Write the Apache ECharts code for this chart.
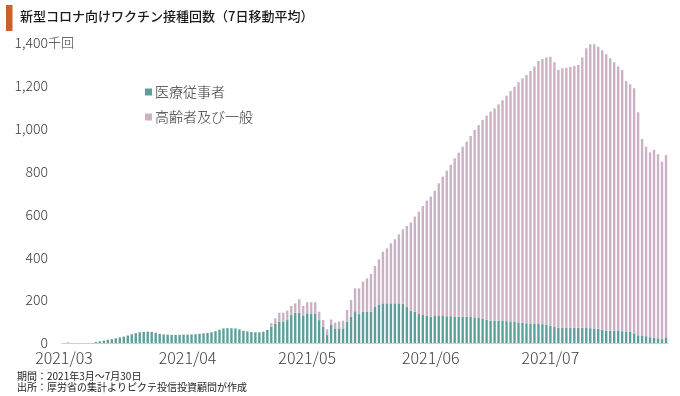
<!DOCTYPE html>
<html>
<head>
<meta charset="utf-8">
<script src="https://cdn.jsdelivr.net/npm/echarts@6/dist/echarts.min.js"></script>
<style>
html,body{margin:0;padding:0;background:#fff;}
#c{width:680px;height:396px;}
</style>
</head>
<body>
<div id="c"></div>
<script>
// ---- data (thousand doses, 7-day moving average) ----
const startDay = [2021, 3, 1];
const dayCount = 152; // 2021/03/01 - 2021/07/30
const monthLabels = ['2021/03', '2021/04', '2021/05', '2021/06', '2021/07'];
const yTicks = [0, 200, 400, 600, 800, 1000, 1200, 1400];
const seriesNames = ['医療従事者', '高齢者及び一般'];

const healthcare = [
  0,2,0,0,0,0,0,0,5,8,
  11,15,18,22,26,30,35,41,46,50,
  52,53,52,48,43,40,39,38,38,38,
  39,39,40,41,43,45,47,50,55,62,
  68,69,69,68,64,57,54,51,50,50,
  53,61,76,89,100,100,107,131,141,141,
  126,138,138,138,107,76,37,84,68,68,
  68,100,123,148,135,145,145,145,168,180,
  185,185,185,185,185,183,170,150,146,135,
  131,128,123,126,126,126,125,125,123,123,
  123,123,122,120,117,112,108,105,104,104,
  103,102,101,99,96,94,92,91,91,90,
  88,85,80,75,72,72,72,72,72,72,
  71,70,69,68,66,62,58,57,56,56,
  55,54,52,45,36,33,32,27,24,22,
  18,25
];
const general = [
  0,0,0,0,0,0,0,0,0,0,
  0,0,0,0,0,0,0,0,0,0,
  0,0,0,0,0,0,0,0,0,0,
  0,0,0,0,0,0,0,0,0,0,
  0,0,0,0,0,0,0,0,0,0,
  0,0,17,26,41,41,44,42,44,63,
  47,52,52,52,39,31,27,26,27,32,
  36,54,78,107,120,141,157,177,191,210,
  241,257,280,299,322,347,376,412,444,478,
  508,536,560,585,619,650,679,706,739,765,
  793,817,844,874,900,929,953,975,991,1010,
  1030,1052,1075,1097,1121,1141,1159,1178,1199,1226,
  1237,1247,1256,1235,1202,1210,1213,1216,1221,1225,
  1261,1305,1325,1326,1317,1304,1289,1272,1254,1234,
  1219,1169,1155,1144,1041,919,884,863,877,859,
  828,852
];

// category dates
const dates = [];
for (let i = 0; i < dayCount; i++) {
  const d = new Date(Date.UTC(startDay[0], startDay[1] - 1, startDay[2] + i));
  const mm = String(d.getUTCMonth() + 1).padStart(2, '0');
  const dd = String(d.getUTCDate()).padStart(2, '0');
  dates.push(d.getUTCFullYear() + '/' + mm + '/' + dd);
}

const FONT = '"Noto Sans CJK JP", "Noto Sans", sans-serif';
const TEAL = '#5e9f9d';
const PINK = '#ccb0c5';

const chart = echarts.init(document.getElementById('c'), null, {renderer: 'canvas'});
chart.setOption({
  animation: false,
  backgroundColor: '#fff',
  textStyle: {fontFamily: FONT},
  grid: {left: 62, right: 12, top: 43, bottom: 53, containLabel: false, outerBoundsMode: 'none'},
  legend: {
    data: seriesNames,
    orient: 'vertical',
    left: 140,
    top: 80,
    icon: 'rect',
    itemWidth: 7,
    itemHeight: 7,
    itemGap: 11,
    textStyle: {fontFamily: FONT, fontSize: 14, fontWeight: 300, color: '#333', padding: [0, 0, 0, -2]}
  },
  xAxis: {
    type: 'category',
    data: dates,
    boundaryGap: true,
    axisLine: {show: true, lineStyle: {color: '#cfcfcf', width: 1}},
    axisTick: {show: false},
    splitLine: {show: false},
    axisLabel: {
      interval: function (index, value) { return value.slice(8) === '01'; },
      formatter: function (value) {
        const m = value.slice(0, 7);
        return monthLabels.indexOf(m) >= 0 ? m : '';
      },
      fontFamily: FONT,
      fontSize: 16,
      fontWeight: 300,
      color: '#3a3a3a',
      margin: 7,
      hideOverlap: false
    }
  },
  yAxis: {
    type: 'value',
    min: yTicks[0],
    max: yTicks[yTicks.length - 1],
    interval: 200,
    axisLine: {show: false},
    axisTick: {show: false},
    splitLine: {show: false},
    axisLabel: {
      fontFamily: FONT,
      fontSize: 14,
      fontWeight: 300,
      color: '#3a3a3a',
      margin: 14,
      formatter: function (v) { return v.toLocaleString('en-US'); }
    }
  },
  series: [
    {
      name: seriesNames[0],
      type: 'bar',
      stack: 'total',
      data: healthcare,
      barWidth: 2.4,
      itemStyle: {color: TEAL},
      emphasis: {disabled: true}
    },
    {
      name: seriesNames[1],
      type: 'bar',
      stack: 'total',
      data: general,
      barWidth: 2.4,
      itemStyle: {color: PINK},
      emphasis: {disabled: true}
    }
  ],
  graphic: [
    {type: 'rect', left: 6, top: 5, shape: {width: 6.5, height: 26}, style: {fill: '#c8612b'}},
    {type: 'text', left: 20, top: 10, style: {text: '新型コロナ向けワクチン接種回数（7日移動平均）', font: '500 13px ' + FONT, fill: '#1a1a1a'}},
    {type: 'text', left: 48, top: 36, style: {text: '千回', font: '300 13px ' + FONT, fill: '#3a3a3a'}},
    {type: 'text', left: 17, top: 371, style: {text: '期間：2021年3月～7月30日', font: '10px ' + FONT, fill: '#222'}},
    {type: 'text', left: 17, top: 382, style: {text: '出所：厚労省の集計よりピクテ投信投資顧問が作成', font: '10px ' + FONT, fill: '#222'}}
  ]
});
</script>
</body>
</html>
